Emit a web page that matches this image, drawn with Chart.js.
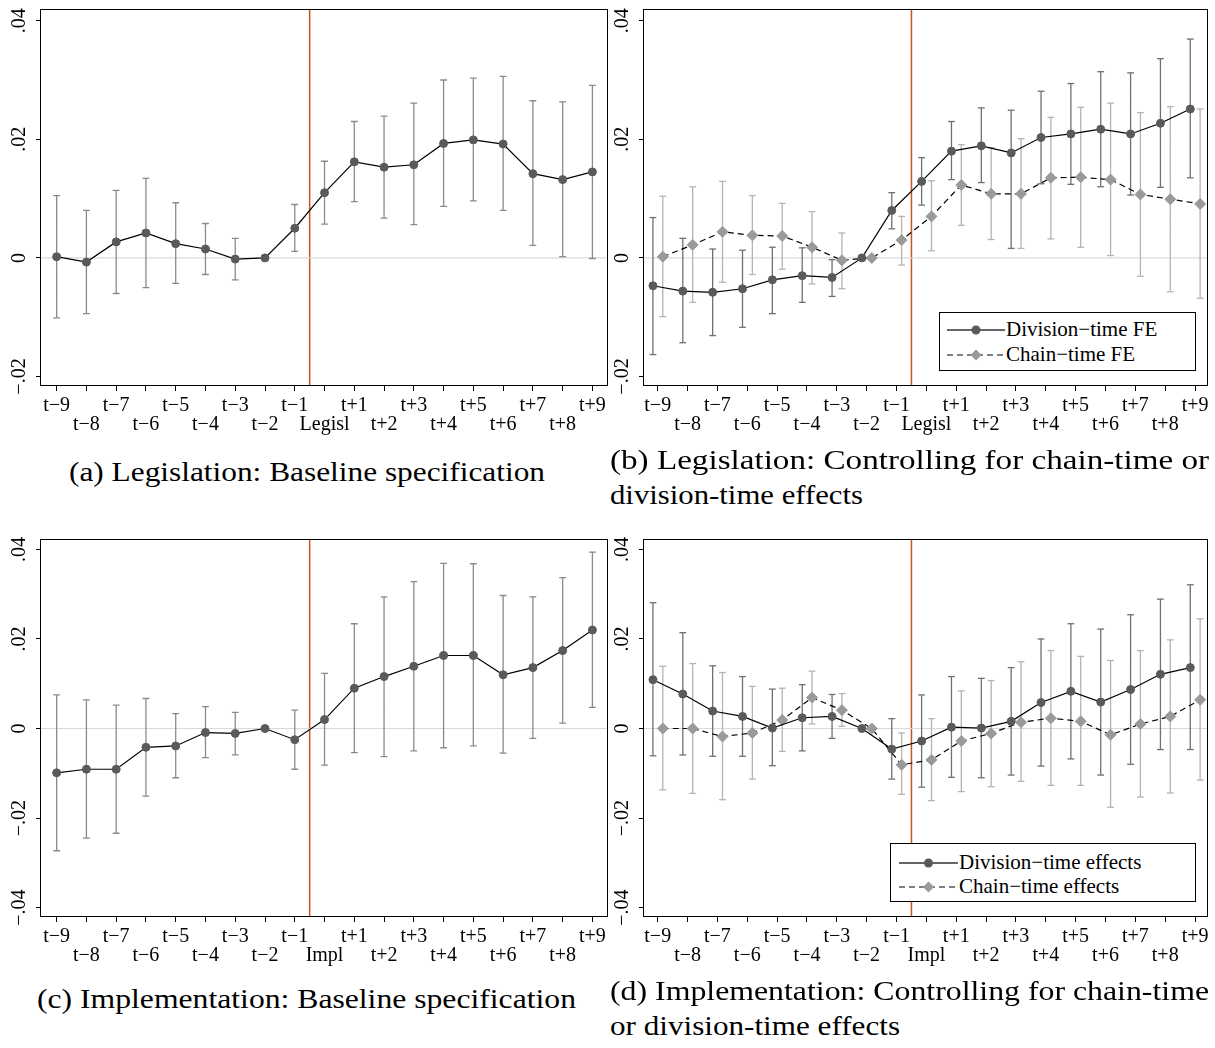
<!DOCTYPE html>
<html><head><meta charset="utf-8">
<script src="https://cdn.jsdelivr.net/npm/chart.js@4.4.1/dist/chart.umd.min.js"></script>
<style>
html,body{margin:0;padding:0;background:#fff;}
body{width:1215px;height:1048px;position:relative;overflow:hidden;font-family:"Liberation Serif",serif;color:#000;}
canvas{position:absolute;}
.cap{position:absolute;font-family:"Liberation Serif",serif;font-size:27px;line-height:27px;white-space:nowrap;transform-origin:0 0;}
.leg{position:absolute;border:1px solid #000;background:#fff;box-sizing:border-box;}
.leg .txt{position:absolute;font-family:"Liberation Serif",serif;font-size:21px;line-height:21px;white-space:nowrap;}
.leg svg{position:absolute;left:0;}
</style></head><body>
<canvas id="ca"></canvas><canvas id="cb"></canvas><canvas id="cc"></canvas><canvas id="cd"></canvas>
<div id="overlay"></div>
<script>
// ---------- data ----------
const legislCats = ['t−9','t−8','t−7','t−6','t−5','t−4','t−3','t−2','t−1','Legisl','t+1','t+2','t+3','t+4','t+5','t+6','t+7','t+8','t+9'];
const implCats   = ['t−9','t−8','t−7','t−6','t−5','t−4','t−3','t−2','t−1','Impl','t+1','t+2','t+3','t+4','t+5','t+6','t+7','t+8','t+9'];

const yValsAB   = [-0.02, 0, 0.02, 0.04];
const yLabelsAB = ['−.02', '0', '.02', '.04'];
const yValsCD   = [-0.04, -0.02, 0, 0.02, 0.04];
const yLabelsCD = ['−.04', '−.02', '0', '.02', '.04'];

const eventLine = 8.5;

// (a) Legislation: baseline
const aCoef = [0.0002,-0.0007,0.0027,0.0042,0.0024,0.0015,-0.0002,0,0.005,0.011,0.0162,0.0153,0.0157,0.0193,0.0199,0.0192,0.0142,0.0132,0.0145];
const aLo   = [-0.0101,-0.0094,-0.006,-0.005,-0.0043,-0.0028,-0.0037,null,0.0011,0.0057,0.0095,0.0067,0.0056,0.0087,0.0096,0.008,0.0021,0.0002,-0.0001];
const aHi   = [0.0105,0.008,0.0114,0.0134,0.0093,0.0058,0.0033,null,0.009,0.0163,0.023,0.0239,0.0261,0.030,0.0303,0.0306,0.0265,0.0263,0.0291];

// (b) Legislation: division-time FE / chain-time FE
const bDivCoef   = [-0.0047,-0.0056,-0.0058,-0.0052,-0.0037,-0.003,-0.0033,0,0.008,0.0129,0.018,0.0189,0.0177,0.0203,0.0209,0.0217,0.0209,0.0227,0.0251];
const bDivLo     = [-0.0163,-0.0143,-0.0131,-0.0117,-0.0094,-0.0075,-0.0065,null,0.0049,0.0089,0.0132,0.0127,0.0016,0.0125,0.0124,0.012,0.0106,0.0119,0.0135];
const bDivHi     = [0.0068,0.0033,0.0015,0.0013,0.0018,0.0017,-0.0003,null,0.011,0.0169,0.023,0.0253,0.0249,0.0281,0.0294,0.0314,0.0312,0.0336,0.0369];
const bChainCoef = [0.0002,0.0022,0.0044,0.0038,0.0037,0.0018,-0.0004,0,0.003,0.007,0.0123,0.0108,0.0108,0.0135,0.0136,0.0132,0.0107,0.0099,0.0091];
const bChainLo   = [-0.0099,-0.0075,-0.0041,-0.0028,-0.0019,-0.0044,-0.0052,null,-0.0012,0.0012,0.0055,0.0031,0.0016,0.0032,0.0018,0.0004,-0.0031,-0.0057,-0.0068];
const bChainHi   = [0.0104,0.012,0.0129,0.0105,0.0092,0.0078,0.0042,null,0.007,0.013,0.0191,0.0186,0.0201,0.0237,0.0254,0.0261,0.0245,0.0255,0.0251];

// (c) Implementation: baseline
const cCoef = [-0.0099,-0.0091,-0.0091,-0.0042,-0.0039,-0.0009,-0.0011,0,-0.0025,0.002,0.009,0.0116,0.0139,0.0163,0.0163,0.012,0.0136,0.0174,0.022];
const cLo   = [-0.0273,-0.0245,-0.0234,-0.0151,-0.011,-0.0065,-0.0059,null,-0.0091,-0.0082,-0.0054,-0.0063,-0.005,-0.0043,-0.0039,-0.0055,-0.0022,0.0012,0.0047];
const cHi   = [0.0075,0.0064,0.0052,0.0067,0.0033,0.0049,0.0036,null,0.0041,0.0123,0.0234,0.0294,0.0328,0.0369,0.0368,0.0297,0.0294,0.0337,0.0394];

// (d) Implementation: division-time / chain-time effects
const dDivCoef   = [0.0109,0.0077,0.0039,0.0027,0.0001,0.0024,0.0027,0,-0.0046,-0.0028,0.0003,0.0001,0.0016,0.0058,0.0083,0.0059,0.0087,0.0121,0.0136];
const dDivLo     = [-0.0061,-0.0059,-0.0062,-0.0062,-0.0083,-0.005,-0.0022,null,-0.0113,-0.0131,-0.0109,-0.011,-0.0104,-0.0084,-0.0068,-0.0104,-0.008,-0.0047,-0.0047];
const dDivHi     = [0.0281,0.0214,0.014,0.0116,0.0088,0.0098,0.0076,null,0.0022,0.0075,0.0116,0.0112,0.0136,0.02,0.0234,0.0222,0.0254,0.0289,0.0321];
const dChainCoef = [0,0,-0.0018,-0.001,0.0019,0.0069,0.0041,0,-0.0081,-0.007,-0.0028,-0.0011,0.0014,0.0023,0.0016,-0.0014,0.001,0.0027,0.0064];
const dChainLo   = [-0.0137,-0.0145,-0.0159,-0.0113,-0.0051,0.001,0.0005,null,-0.0147,-0.0161,-0.0141,-0.013,-0.0118,-0.0127,-0.0127,-0.0176,-0.0153,-0.0144,-0.0115];
const dChainHi   = [0.0139,0.0145,0.0125,0.0094,0.009,0.0128,0.0078,null,-0.001,0.0022,0.0084,0.0107,0.0149,0.0174,0.0161,0.0152,0.0174,0.0198,0.0245];

const captionA  = '(a) Legislation: Baseline specification';
const captionB1 = '(b) Legislation: Controlling for chain-time or';
const captionB2 = 'division-time effects';
const captionC  = '(c) Implementation: Baseline specification';
const captionD1 = '(d) Implementation: Controlling for chain-time';
const captionD2 = 'or division-time effects';
const legendB = ['Division−time FE', 'Chain−time FE'];
const legendD = ['Division−time effects', 'Chain−time effects'];

// ---------- styles ----------
const FONT = 'Liberation Serif';
const DARK_MARK = '#5a5a5a', LIGHT_MARK = '#9a9a9a';
const CI_MID = '#8a8a8a', CI_DARK = '#707070', CI_LIGHT = '#b4b4b4';
const RED = '#cc5020', ZERO = '#d9d9d9';

function ciData(lo, hi, off) {
  const pts = [];
  lo.forEach((v, i) => {
    if (v === null || hi[i] === null) return;
    pts.push({x: i + off, y: v}, {x: i + off, y: hi[i]}, {x: i + off, y: null});
  });
  return pts;
}
function capData(lo, hi, off) {
  const pts = [];
  lo.forEach((v, i) => {
    if (v === null || hi[i] === null) return;
    pts.push({x: i + off, y: v}, {x: i + off, y: hi[i]});
  });
  return pts;
}
function coefData(c, off) { return c.map((v, i) => ({x: i + off, y: v})); }

function seriesDatasets(s) {
  return [
    {type:'line', data: ciData(s.lo, s.hi, s.off), borderColor: s.ci, borderWidth: 1.3, pointRadius: 0, spanGaps: false, order: 5},
    {type:'scatter', data: capData(s.lo, s.hi, s.off), showLine: false, pointStyle: 'line', pointRadius: 3.4, borderColor: s.ci, pointBorderColor: s.ci, pointBorderWidth: 1.3, order: 5},
    {type:'line', data: coefData(s.coef, s.off), borderColor: '#000', borderWidth: 1.2, borderDash: s.dash || [],
     pointStyle: s.marker, pointRadius: s.r, pointBackgroundColor: s.mc, pointBorderColor: s.mc, pointBorderWidth: 1, order: s.order || 1}
  ];
}

const framePlugin = {
  id: 'frame',
  afterDatasetsDraw(chart) {
    const a = chart.chartArea, ctx = chart.ctx;
    ctx.save();
    ctx.strokeStyle = '#000'; ctx.lineWidth = 1;
    ctx.strokeRect(Math.round(a.left) - 0.5, Math.round(a.top) - 0.5, Math.round(a.right - a.left) + 1, Math.round(a.bottom - a.top));
    ctx.restore();
  }
};

function makePanel(p) {
  const cv = document.getElementById(p.id);
  cv.width = p.W; cv.height = p.H;
  cv.style.left = p.left + 'px'; cv.style.top = p.top + 'px';
  cv.style.width = p.W + 'px'; cv.style.height = p.H + 'px';
  let ds = [
    {type:'line', data:[{x:eventLine, y:p.ymin}, {x:eventLine, y:p.ymax}], borderColor: RED, borderWidth: 1.5, pointRadius: 0, order: 20},
    {type:'line', data:[{x:p.xmin, y:0}, {x:p.xmax, y:0}], borderColor: ZERO, borderWidth: 1.2, pointRadius: 0, order: 19}
  ];
  p.series.forEach(s => { ds = ds.concat(seriesDatasets(s)); });
  new Chart(cv, {
    type: 'line',
    data: { datasets: ds },
    plugins: [framePlugin],
    options: {
      responsive: false, animation: false, devicePixelRatio: 1, events: [],
      layout: { padding: p.pad },
      plugins: { legend: {display: false}, tooltip: {enabled: false} },
      scales: {
        x: {
          type: 'linear', min: p.xmin, max: p.xmax,
          afterBuildTicks: s => { s.ticks = p.cats.map((_, i) => ({value: i})); },
          afterFit: s => { s.height = p.xH; },
          grid: { display: true, drawOnChartArea: false, drawTicks: true, tickLength: 5, tickColor: '#000', tickWidth: 1 },
          border: { display: false },
          ticks: { autoSkip: false, minRotation: 0, maxRotation: 0, padding: 5, color: '#000',
                   font: { family: FONT, size: 20, lineHeight: 0.95 },
                   callback: (v, i) => (i % 2 === 0 ? p.cats[i] : ['', p.cats[i]]) }
        },
        y: {
          type: 'linear', min: p.ymin, max: p.ymax,
          afterBuildTicks: s => { s.ticks = p.yVals.map(v => ({value: v})); },
          afterFit: s => { s.width = p.yW; },
          grid: { display: true, drawOnChartArea: false, drawTicks: true, tickLength: 5, tickColor: '#000', tickWidth: 1 },
          border: { display: false },
          ticks: { minRotation: 90, maxRotation: 90, crossAlign: 'center', padding: -2, color: '#000',
                   font: { family: FONT, size: 20 },
                   callback: (v, i) => p.yLabels[i] }
        }
      }
    }
  });
}

const panelA = {id:'ca', left:0, top:0, W:612, H:440, pad:{left:0,right:4,top:6,bottom:0}, yW:41, xH:54,
  xmin:-0.526, xmax:18.48, ymin:-0.0216, ymax:0.0418, cats: legislCats, yVals: yValsAB, yLabels: yLabelsAB,
  series:[{coef:aCoef, lo:aLo, hi:aHi, off:0, ci:CI_MID, marker:'circle', r:4, mc:DARK_MARK}]};
const panelB = {id:'cb', left:603, top:0, W:612, H:440, pad:{left:0,right:8,top:6,bottom:0}, yW:41, xH:54,
  xmin:-0.46, xmax:18.4, ymin:-0.0216, ymax:0.0418, cats: legislCats, yVals: yValsAB, yLabels: yLabelsAB,
  series:[{coef:bChainCoef, lo:bChainLo, hi:bChainHi, off:0.17, ci:CI_LIGHT, marker:'rectRot', r:5.5, mc:LIGHT_MARK, dash:[6,4], order:2},
          {coef:bDivCoef, lo:bDivLo, hi:bDivHi, off:-0.16, ci:CI_DARK, marker:'circle', r:4, mc:DARK_MARK, order:1}]};
const panelC = {id:'cc', left:0, top:530, W:612, H:440, pad:{left:0,right:4,top:8,bottom:0}, yW:41, xH:53,
  xmin:-0.526, xmax:18.48, ymin:-0.0421, ymax:0.0421, cats: implCats, yVals: yValsCD, yLabels: yLabelsCD,
  series:[{coef:cCoef, lo:cLo, hi:cHi, off:0, ci:CI_MID, marker:'circle', r:4, mc:DARK_MARK}]};
const panelD = {id:'cd', left:603, top:530, W:612, H:440, pad:{left:0,right:8,top:8,bottom:0}, yW:41, xH:53,
  xmin:-0.46, xmax:18.4, ymin:-0.0421, ymax:0.0421, cats: implCats, yVals: yValsCD, yLabels: yLabelsCD,
  series:[{coef:dChainCoef, lo:dChainLo, hi:dChainHi, off:0.17, ci:CI_LIGHT, marker:'rectRot', r:5.5, mc:LIGHT_MARK, dash:[6,4], order:2},
          {coef:dDivCoef, lo:dDivLo, hi:dDivHi, off:-0.16, ci:CI_DARK, marker:'circle', r:4, mc:DARK_MARK, order:1}]};

[panelA, panelB, panelC, panelD].forEach(makePanel);

// ---------- captions ----------
const overlay = document.getElementById('overlay');
function caption(text, x0, x1, yc) {
  const d = document.createElement('div');
  d.className = 'cap'; d.textContent = text;
  d.style.left = x0 + 'px'; d.style.top = (yc - 14) + 'px';
  overlay.appendChild(d);
  const w = d.getBoundingClientRect().width;
  d.style.transform = 'scaleX(' + ((x1 - x0) / w) + ')';
}
caption(captionA, 69, 545, 473);
caption(captionB1, 610, 1209, 461);
caption(captionB2, 610, 863, 496);
caption(captionC, 37, 576, 1000);
caption(captionD1, 610, 1209, 992);
caption(captionD2, 610, 900, 1027);

// ---------- legends ----------
function legend(labels, box, symX0, symX1, textX, rows) {
  const d = document.createElement('div');
  d.className = 'leg';
  Object.assign(d.style, {left: box[0] + 'px', top: box[1] + 'px', width: box[2] + 'px', height: box[3] + 'px'});
  const ns = 'http://www.w3.org/2000/svg';
  const svg = document.createElementNS(ns, 'svg');
  svg.setAttribute('width', box[2]); svg.setAttribute('height', box[3]);
  svg.style.top = '0px';
  const mid = (symX0 + symX1) / 2;
  let l = document.createElementNS(ns, 'line');
  Object.entries({x1: symX0, x2: symX1, y1: rows[0], y2: rows[0], stroke: '#333', 'stroke-width': 1.3}).forEach(([k, v]) => l.setAttribute(k, v));
  svg.appendChild(l);
  let c = document.createElementNS(ns, 'circle');
  Object.entries({cx: mid, cy: rows[0], r: 4.5, fill: DARK_MARK}).forEach(([k, v]) => c.setAttribute(k, v));
  svg.appendChild(c);
  l = document.createElementNS(ns, 'line');
  Object.entries({x1: symX0, x2: symX1, y1: rows[1], y2: rows[1], stroke: '#000', 'stroke-width': 1.2, 'stroke-dasharray': '6 4'}).forEach(([k, v]) => l.setAttribute(k, v));
  svg.appendChild(l);
  const p = document.createElementNS(ns, 'polygon');
  const r = 5.5, y = rows[1];
  p.setAttribute('points', `${mid - r},${y} ${mid},${y - r} ${mid + r},${y} ${mid},${y + r}`);
  p.setAttribute('fill', LIGHT_MARK);
  svg.appendChild(p);
  d.appendChild(svg);
  labels.forEach((t, i) => {
    const s = document.createElement('div');
    s.className = 'txt'; s.textContent = t;
    s.style.left = textX + 'px'; s.style.top = (rows[i] - 11) + 'px';
    d.appendChild(s);
  });
  overlay.appendChild(d);
}
legend(legendB, [939, 312, 257, 59], 7, 65, 66, [17, 42]);
legend(legendD, [890, 843, 306, 59], 8, 67, 68, [19, 43]);
</script>
</body></html>
